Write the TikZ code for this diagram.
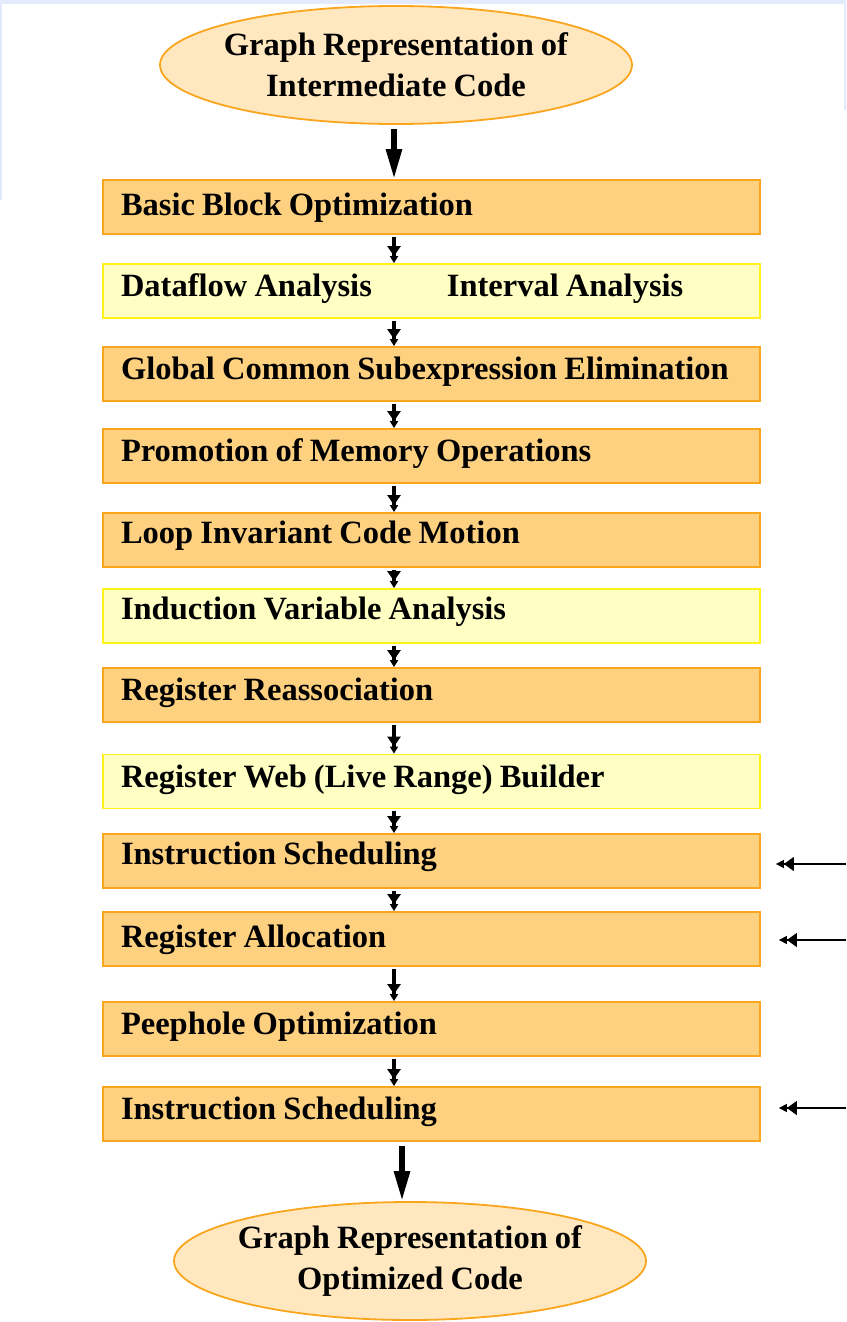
\documentclass[tikz,border=0pt]{standalone}
\usepackage{fontspec}
\setmainfont{Liberation Serif}
\usepackage{xcolor}
\usepackage{tikz}
\usetikzlibrary{arrows.meta,shapes.geometric}
\definecolor{boxorange}{HTML}{FDD17F}
\definecolor{edgeorange}{HTML}{F9A51E}
\definecolor{boxyellow}{HTML}{FFFFC4}
\definecolor{edgeyellow}{HTML}{FFF21A}
\definecolor{ovalfill}{HTML}{FFE8BF}
\definecolor{frameblue}{HTML}{E3EAFB}
\tikzset{every node/.append style={font=\fontsize{16.25pt}{20.5pt}\selectfont\bfseries,
  execute at begin node={\spaceskip=0.22em\relax}}}
\tikzset{
  stage/.style={draw=edgeorange,fill=boxorange,line width=0.9pt,
    minimum width=328.5pt,minimum height=27pt,text width=310.5pt,
    inner xsep=9pt,align=left,text height=0.8em,text depth=0.25em},
  analysis/.style={stage,draw=edgeyellow,fill=boxyellow},
  terminal/.style={ellipse,draw=edgeorange,fill=ovalfill,line width=0.9pt,
    minimum width=236pt,minimum height=59pt,inner xsep=-3.5pt,inner ysep=0pt,align=center},
  flow/.style={line width=1.6pt,
    -{Triangle[length=5pt,width=6.5pt]Triangle[length=3.5pt,width=4pt]}},
  bigflow/.style={line width=2.8pt,-{Triangle[length=15pt,width=7.5pt]}},
  feed/.style={line width=0.8pt,
    -{Triangle[length=5pt,width=7pt]Triangle[length=4pt,width=4pt]}}
}
\begin{document}
\begin{tikzpicture}[x=0.5pt,y=-0.5pt]
  \useasboundingbox (0,0) rectangle (846,1322);
  \fill[frameblue] (0,0) rectangle (846,4);
  \fill[frameblue] (0,0) rectangle (2,200);
  \fill[frameblue] (844,0) rectangle (846,110);
  \node[terminal] (gic) at (396,65) {Graph Representation of\\Intermediate Code};
  \node[stage,text height=1.05em] (bbo) at (431.5,207) {Basic Block Optimization};
  \node[analysis] (dfa)  at (431.5,291)  {Dataflow Analysis\hspace{37.5pt}Interval Analysis};
  \node[stage]    (gcse) at (431.5,374)  {Global Common Subexpression Elimination};
  \node[stage]    (pmo)  at (431.5,456)  {Promotion of Memory Operations};
  \node[stage,text height=0.64em] (licm) at (431.5,540) {Loop Invariant Code Motion};
  \node[analysis,text height=0.64em] (iva) at (431.5,616) {Induction Variable Analysis};
  \node[stage]    (rra)  at (431.5,695)  {Register Reassociation};
  \node[analysis] (rwb)  at (431.5,781.5){Register Web (Live Range) Builder};
  \node[stage,text height=0.64em] (is1) at (431.5,861) {Instruction Scheduling};
  \node[stage,text height=1.05em] (ra) at (431.5,939) {Register Allocation};
  \node[stage]    (pho)  at (431.5,1029) {Peephole Optimization};
  \node[stage]    (is2)  at (431.5,1114) {Instruction Scheduling};
  \node[terminal] (goc)  at (410,1261) {Graph Representation of\\Optimized Code};
  \coordinate (spine) at (394,0);
  \coordinate (spinelow) at (402,0);
  \draw[bigflow] (gic.south -| spine) ++(0,4) -- (bbo.north -| spine);
  \foreach \a/\b in {bbo/dfa,dfa/gcse,gcse/pmo,pmo/licm,licm/iva,iva/rra,rra/rwb,rwb/is1,is1/ra,ra/pho,pho/is2}
    \draw[flow,shorten <=1pt] (\a.south -| spine) -- (\b.north -| spine);
  \draw[bigflow,shorten <=2pt] (is2.south -| spinelow) -- (goc.north -| spinelow);
  \coordinate (in1) at (846,864);
  \coordinate (in2) at (846,940);
  \coordinate (in3) at (846,1108);
  \draw[feed,shorten >=7.5pt] (in1) -- (in1 -| is1.east);
  \draw[feed,shorten >=9pt] (in2) -- (in2 -| ra.east);
  \draw[feed,shorten >=9pt] (in3) -- (in3 -| is2.east);
\end{tikzpicture}
\end{document}
